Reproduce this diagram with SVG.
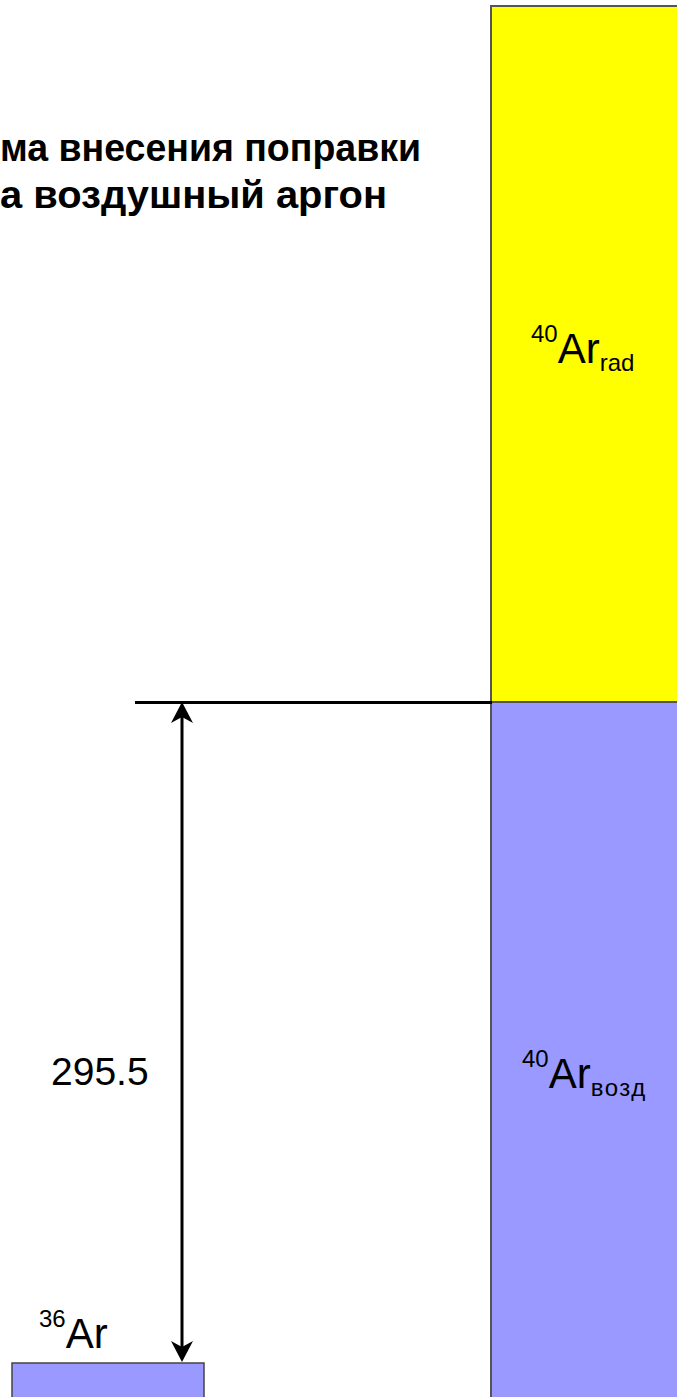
<svg xmlns="http://www.w3.org/2000/svg" width="677" height="1397" viewBox="0 0 677 1397">
<defs>
<style>
.t{font-family:"Liberation Sans",Arial,sans-serif;fill:#000}
.title{font-size:38px;font-weight:bold}
.big{font-size:42px}
.sm{font-size:24px}
.bar{stroke:#555;stroke-width:2}
.conn{stroke:#000;stroke-width:3;fill:none}
</style>
</defs>
<rect width="677" height="1397" fill="#fff"/>
<g id="title">
<text class="t title" x="0" y="161" textLength="421" lengthAdjust="spacingAndGlyphs">ма внесения поправки</text>
<text class="t title" x="0" y="208" textLength="387" lengthAdjust="spacingAndGlyphs">а воздушный аргон</text>
</g>
<g id="ar40-rad">
<rect class="bar" x="491" y="6" width="200" height="696" fill="#ffff00"/>
<text class="t" x="531" y="363"><tspan class="sm" dy="-21">40</tspan><tspan class="big" dy="21">Ar</tspan><tspan class="sm" dy="8">rad</tspan></text>
</g>
<g id="ar40-air">
<rect class="bar" x="491" y="702" width="200" height="710" fill="#9999ff"/>
<text class="t" x="522" y="1088"><tspan class="sm" dy="-21">40</tspan><tspan class="big" dy="21">Ar</tspan><tspan class="sm" dy="8" letter-spacing="1.5">возд</tspan></text>
</g>
<g id="ar36">
<rect x="12" y="1363" width="192" height="50" fill="#9999ff" stroke="#444" stroke-width="1.5"/>
<text class="t" x="39" y="1348"><tspan class="sm" dy="-21">36</tspan><tspan class="big" dy="21">Ar</tspan></text>
</g>
<g id="ratio">
<text class="t" x="51" y="1085" style="font-size:39px">295.5</text>
</g>
<g id="connectors">
<line class="conn" x1="135" y1="702.5" x2="492" y2="702.5"/>
<line class="conn" x1="182" y1="706" x2="182" y2="1358"/>
<path d="M182,702 L171,723 L182,717 L193,723 Z" fill="#000"/>
<path d="M182,1362 L171,1341 L182,1347 L193,1341 Z" fill="#000"/>
</g>
</svg>
